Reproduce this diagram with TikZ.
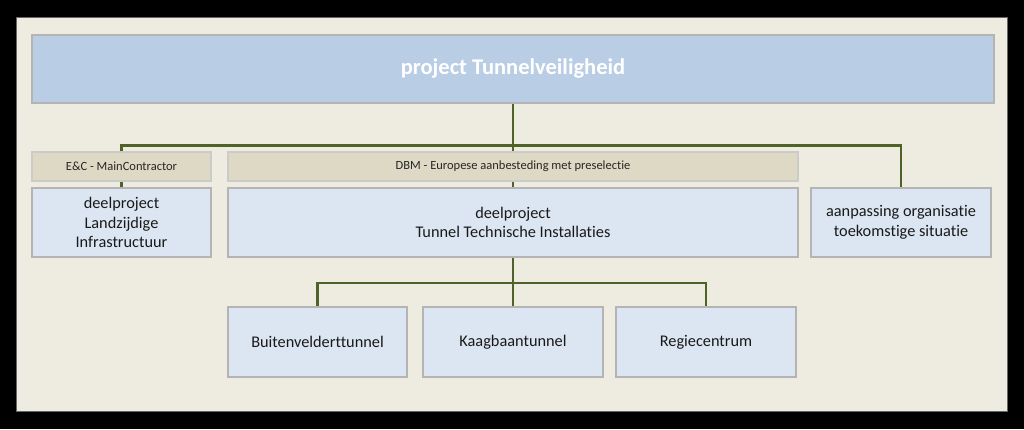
\documentclass[tikz,border=0pt]{standalone}
\usepackage{fontspec}
\setmainfont{Carlito}[Ligatures=NoCommon]
\usepackage{xcolor}
\usepackage{tikz}
\usetikzlibrary{positioning, calc}

\definecolor{panelbg}{HTML}{EEECE1}
\definecolor{topfill}{HTML}{B9CDE5}
\definecolor{boxfill}{HTML}{DCE6F2}
\definecolor{tagfill}{HTML}{DDD9C4}
\definecolor{boxline}{HTML}{B4B4B4}
\definecolor{treeline}{HTML}{4F6228}

\begin{document}
\begin{tikzpicture}[
  x=1pt, y=-1pt,
  topbox/.style={draw=boxline, line width=2pt, fill=topfill, minimum width=962pt, minimum height=68pt, align=center, font=\fontsize{22.5}{27}\selectfont\bfseries, text=white},
  unit/.style={draw=boxline, line width=1.6pt, fill=boxfill, minimum width=179pt, minimum height=69pt, align=center, font=\fontsize{16.3}{19.5}\selectfont, text=black!90},
  tag/.style={draw=boxline!70, line width=1.2pt, fill=tagfill, minimum height=29pt, align=center, font=\fontsize{12.5}{14}\selectfont, text=black!85},
  conn/.style={draw=treeline, line width=2.2pt},
]

% ================= achtergrond =================
\fill[black] (0,0) rectangle (1024,429);
\filldraw[fill=panelbg, draw=black!60] (16,17) rectangle (1007,411);

% ================= knopen =================
% projectniveau
\node[topbox] (project) at (513,69) {project Tunnelveiligheid};

% deelprojecten met contractvorm
\node[tag, minimum width=179pt] (ec) at (121.5,166.5) {E\&C - MainContractor};
\node[unit] (landzijdig) at (121.5,222.5) {deelproject\\Landzijdige\\Infrastructuur};

\node[tag, minimum width=570pt] (dbm) at (513,166.5) {DBM - Europese aanbesteding met preselectie};
\node[unit, minimum width=570pt] (tti) at (513,222.5) {deelproject\\Tunnel Technische Installaties};

\node[unit, minimum width=180pt] (organisatie) at (901,222.5) {aanpassing organisatie\\toekomstige situatie};

% onderdelen TTI
\node[unit, minimum height=70pt] (buitenveldert) at (317.5,342) {Buitenvelderttunnel};
\node[unit, minimum width=180pt, minimum height=70pt] (kaagbaan) at (513,342) {Kaagbaantunnel};
\node[unit, minimum width=180pt, minimum height=70pt] (regie) at (706,342) {Regiecentrum};

% ================= verbindingen =================
% 1. project naar deelprojecten
\draw[conn] (project.south) -- ++(0,41.5) coordinate (hub);
\draw[conn] (ec.north) |- (hub) -| (organisatie.north);
\draw[conn] (hub) -- (dbm.north);
\draw[conn] (ec.south) -- (landzijdig.north);
\draw[conn] (dbm.south) -- (tti.north);

% 2. TTI naar onderdelen
\draw[conn] (tti.south) -- ++(0,25) coordinate (sub);
\draw[conn] (buitenveldert.north) |- (sub) -| (regie.north);
\draw[conn] (sub) -- (kaagbaan.north);

\end{tikzpicture}
\end{document}
